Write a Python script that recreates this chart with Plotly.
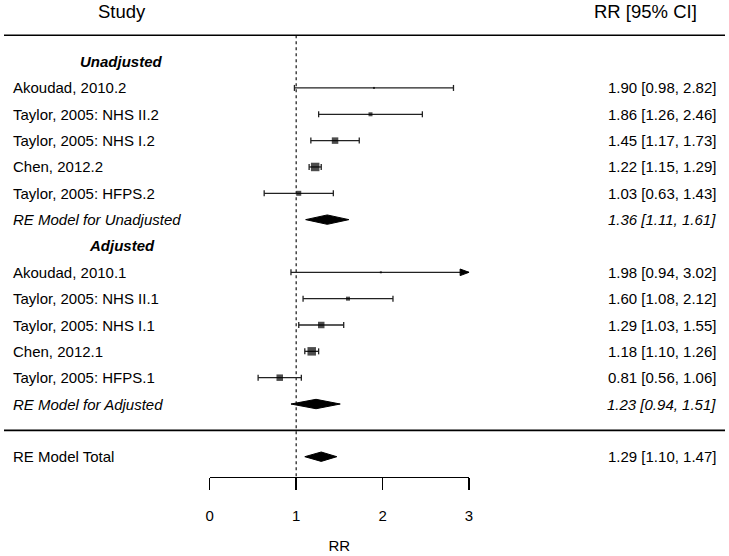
import plotly.graph_objects as go

# ---------------- data ----------------
unadj_labels = ["Akoudad, 2010.2", "Taylor, 2005: NHS II.2", "Taylor, 2005: NHS I.2",
                "Chen, 2012.2", "Taylor, 2005: HFPS.2"]
unadj_rr = [1.90, 1.86, 1.45, 1.22, 1.03]
unadj_lo = [0.98, 1.26, 1.17, 1.15, 0.63]
unadj_hi = [2.82, 2.46, 1.73, 1.29, 1.43]

adj_labels = ["Akoudad, 2010.1", "Taylor, 2005: NHS II.1", "Taylor, 2005: NHS I.1",
              "Chen, 2012.1", "Taylor, 2005: HFPS.1"]
adj_rr = [1.98, 1.60, 1.29, 1.18, 0.81]
adj_lo = [0.94, 1.08, 1.03, 1.10, 0.56]
adj_hi = [3.02, 2.12, 1.55, 1.26, 1.06]

re_labels = ["RE Model for Unadjusted", "RE Model for Adjusted", "RE Model Total"]
re_rr = [1.36, 1.23, 1.29]
re_lo = [1.11, 0.94, 1.10]
re_hi = [1.61, 1.51, 1.47]

group_names = ["Unadjusted", "Adjusted"]
col_headers = ["Study", "RR [95% CI]"]
x_ticks = [0, 1, 2, 3]
x_title = "RR"

# ---------------- styles / layout constants ----------------
unadj_sq = [2, 4, 6.5, 8.5, 5]       # square side (px), weight-based
adj_sq = [2, 4, 6.5, 8.5, 6.5]
W, H = 729, 556
PX0, PXU = 208.0, 87.4               # pixel of RR=0, px per RR unit
PY0, PYU = 456.7, 26.34              # pixel of row 0, px per row
AX_MIN, AX_MAX = 0, 3
FONT = "Liberation Sans, Arial, sans-serif"
FS = 15
HFS = 18.5

def xr(px):
    return (px - PX0) / PXU

def yr(py):
    return (PY0 - py) / PYU

CAP = 3.0 / PYU
DIA = 4.7 / PYU
HEAD_L = 9.0 / PXU
HEAD_H = 3.3 / PYU

# rows
rows_unadj = [14, 13, 12, 11, 10]
rows_adj = [7, 6, 5, 4, 3]
row_re = [9, 2, 0]
row_group = [15, 8]
row_header = yr(11)
row_top_line = 16
row_bot_line = 1
row_axis = yr(476.7)

LABEL_X = xr(7)
HEAD_CX = xr(119)
VAL_X = xr(722)
VAL_HEAD_X = xr(703)

fig = go.Figure()

# CI lines
lx, ly = [], []
heads = []
for labels, rr, lo, hi, rows in [(unadj_labels, unadj_rr, unadj_lo, unadj_hi, rows_unadj),
                                 (adj_labels, adj_rr, adj_lo, adj_hi, rows_adj)]:
    for r, l, h, y in zip(rr, lo, hi, rows):
        lo_c = max(l, AX_MIN)
        hi_c = min(h, AX_MAX)
        lx += [lo_c, hi_c, None]
        ly += [y, y, None]
        if l >= AX_MIN:
            lx += [l, l, None]
            ly += [y - CAP, y + CAP, None]
        if h <= AX_MAX:
            lx += [h, h, None]
            ly += [y - CAP, y + CAP, None]
        else:
            heads.append((AX_MAX, y))

fig.add_trace(go.Scatter(x=lx, y=ly, mode="lines", line=dict(color="#222222", width=1.3),
                         hoverinfo="skip", showlegend=False))

for hx, hy in heads:
    fig.add_trace(go.Scatter(x=[hx - HEAD_L, hx, hx - HEAD_L, hx - HEAD_L],
                             y=[hy - HEAD_H, hy, hy + HEAD_H, hy - HEAD_H],
                             mode="lines", fill="toself", fillcolor="black",
                             line=dict(color="black", width=1), hoverinfo="skip",
                             showlegend=False))

# squares
fig.add_trace(go.Scatter(x=unadj_rr + adj_rr, y=rows_unadj + rows_adj, mode="markers",
                         marker=dict(symbol="square", size=unadj_sq + adj_sq, color="black",
                                     line=dict(width=0)),
                         showlegend=False))

# diamonds
for r, l, h, y in zip(re_rr, re_lo, re_hi, row_re):
    fig.add_trace(go.Scatter(x=[l, r, h, r, l], y=[y, y + DIA, y, y - DIA, y],
                             mode="lines", fill="toself", fillcolor="black",
                             line=dict(color="black", width=1), hoverinfo="skip",
                             showlegend=False))

# invisible trace for the RR axis subplot
fig.add_trace(go.Scatter(x=x_ticks, y=[row_axis] * len(x_ticks), xaxis="x2", yaxis="y",
                         mode="markers", marker=dict(opacity=0), hoverinfo="skip",
                         showlegend=False))

# reference line and separators
shapes = [
    dict(type="line", xref="x", yref="y", x0=1, x1=1, y0=row_top_line, y1=row_axis,
         line=dict(color="black", width=1.1, dash="dot"), layer="below"),
    dict(type="line", xref="paper", yref="y", x0=0, x1=1, y0=row_top_line, y1=row_top_line,
         line=dict(color="black", width=1.6)),
    dict(type="line", xref="paper", yref="y", x0=0, x1=1, y0=row_bot_line, y1=row_bot_line,
         line=dict(color="black", width=1.6)),
]

ann = []
def txt(x, y, s, anchor="left", size=FS):
    ann.append(dict(x=x, y=y, xref="x", yref="y", text=s, showarrow=False,
                    xanchor=anchor, yanchor="middle",
                    font=dict(family=FONT, size=size, color="black")))

txt(HEAD_CX, row_header, col_headers[0], "center", HFS)
txt(VAL_HEAD_X, row_header, col_headers[1], "right", HFS)

for g, y in zip(group_names, row_group):
    txt(HEAD_CX, y, "<b><i>%s</i></b>" % g, "center")

for labels, rr, lo, hi, rows in [(unadj_labels, unadj_rr, unadj_lo, unadj_hi, rows_unadj),
                                 (adj_labels, adj_rr, adj_lo, adj_hi, rows_adj)]:
    for lab, r, l, h, y in zip(labels, rr, lo, hi, rows):
        txt(LABEL_X, y, lab, "left")
        txt(VAL_X, y, "%.2f [%.2f, %.2f]" % (r, l, h), "right")

for i, (lab, r, l, h, y) in enumerate(zip(re_labels, re_rr, re_lo, re_hi, row_re)):
    s_lab = lab if i == 2 else "<i>%s</i>" % lab
    s_val = "%.2f [%.2f, %.2f]" % (r, l, h)
    if i < 2:
        s_val = "<i>%s</i>" % s_val
    txt(LABEL_X, y, s_lab, "left")
    txt(VAL_X, y, s_val, "right")

fig.update_layout(
    width=W, height=H, margin=dict(l=0, r=0, t=0, b=0, pad=0),
    paper_bgcolor="white", plot_bgcolor="rgba(0,0,0,0)",
    font=dict(family=FONT, size=FS, color="black"),
    xaxis=dict(range=[xr(0), xr(W)], visible=False, fixedrange=True),
    yaxis=dict(range=[yr(H), yr(0)], visible=False, fixedrange=True),
    xaxis2=dict(range=[AX_MIN, AX_MAX], domain=[PX0 / W, (PX0 + AX_MAX * PXU) / W],
                anchor="free", position=1 - 476.7 / H, showline=True, linecolor="black",
                linewidth=1.4, ticks="outside", ticklen=12, tickwidth=1.4, tickcolor="black",
                tickvals=x_ticks, ticktext=[str(t) for t in x_ticks], showgrid=False,
                zeroline=False, ticklabelstandoff=13,
                tickfont=dict(family=FONT, size=FS, color="black"),
                title=dict(text=x_title, standoff=17, font=dict(family=FONT, size=FS, color="black")),
                fixedrange=True),
    shapes=shapes, annotations=ann, showlegend=False,
)

fig.write_html("out.html", config={"displayModeBar": False, "staticPlot": True},
               post_script="document.body.style.margin='0';document.body.style.overflow='hidden';")
